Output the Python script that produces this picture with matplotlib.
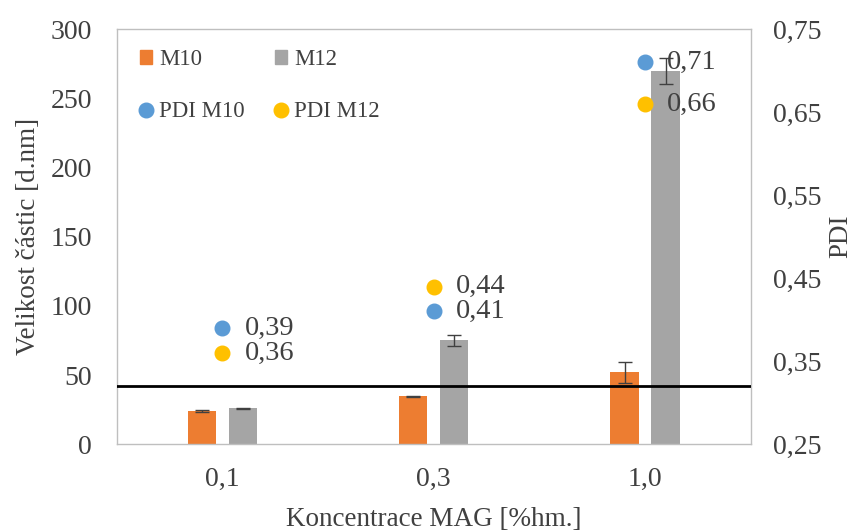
import matplotlib
matplotlib.use("Agg")
import matplotlib.pyplot as plt
from matplotlib.lines import Line2D
from matplotlib.patches import Patch
import numpy as np

plt.rcParams['font.family'] = ['Liberation Serif', 'DejaVu Serif']

categories = ["0,1", "0,3", "1,0"]
size_m10 = [24, 34.5, 52]
size_m12 = [26, 75, 270]
err_m10 = [0.5, 0.5, 7.8]
err_m12 = [0.5, 4.3, 9.5]
pdi_m10 = [0.39, 0.41, 0.71]
pdi_m12 = [0.36, 0.44, 0.66]
limit_line = 42

left_ticks = [0, 50, 100, 150, 200, 250, 300]
right_ticks = [0.25, 0.35, 0.45, 0.55, 0.65, 0.75]

c_orange = "#ED7D31"
c_gray = "#A5A5A5"
c_blue = "#5B9BD5"
c_yellow = "#FFC000"
c_text = "#404040"
c_frame = "#BFBFBF"

fs_tick = 20
fs_label = 19.5
fs_data = 20.5
fs_leg = 16.5

fig = plt.figure(figsize=(8.53, 5.32), dpi=100)
ax = fig.add_axes([0.137, 0.165, 0.743, 0.780])
x = np.arange(len(categories))
w = 0.133
off = 0.097

ax.bar(x - off, size_m10, w, color=c_orange, zorder=2)
ax.bar(x + off, size_m12, w, color=c_gray, zorder=2)
ax.errorbar(x - off, size_m10, yerr=err_m10, fmt='none', ecolor=c_text,
            elinewidth=1, capsize=5, capthick=1, zorder=3)
ax.errorbar(x + off, size_m12, yerr=err_m12, fmt='none', ecolor=c_text,
            elinewidth=1, capsize=5, capthick=1, zorder=3)
ax.axhline(limit_line, color="black", lw=2, zorder=4)

ax.set_xlim(-0.5, 2.5)
ax.set_ylim(0, 300)
ax.set_yticks(left_ticks)
ax.set_xticks(x)
ax.set_xticklabels(categories)
ax.tick_params(length=0, labelsize=fs_tick, labelcolor=c_text)
ax.tick_params(axis='y', pad=18)
ax.tick_params(axis='x', pad=16)
for s in ax.spines.values():
    s.set_color(c_frame)
    s.set_linewidth(1)
ax.set_ylabel("Velikost částic [d.nm]", fontsize=fs_label, color=c_text, labelpad=7)
ax.set_xlabel("Koncentrace MAG [%hm.]", fontsize=fs_label, color=c_text, labelpad=11)

ax2 = ax.twinx()
ax2.set_ylim(0.25, 0.75)
ax2.set_yticks(right_ticks)
ax2.set_yticklabels([f"{t:.2f}".replace(".", ",") for t in right_ticks])
ax2.tick_params(length=0, labelsize=fs_tick, labelcolor=c_text, pad=16)
for s in ax2.spines.values():
    s.set_visible(False)
ax2.set_ylabel("PDI", fontsize=fs_label, color=c_text, labelpad=5)

ax2.plot(x, pdi_m10, 'o', color=c_blue, ms=10.5, zorder=5)
ax2.plot(x, pdi_m12, 'o', color=c_yellow, ms=10.5, zorder=5)
for xi, v in zip(x, pdi_m10):
    ax2.annotate(f"{v:.2f}".replace(".", ","), (xi, v), xytext=(16, 0),
                 textcoords="offset points", va="center", ha="left",
                 fontsize=fs_data, color=c_text)
for xi, v in zip(x, pdi_m12):
    ax2.annotate(f"{v:.2f}".replace(".", ","), (xi, v), xytext=(16, 0),
                 textcoords="offset points", va="center", ha="left",
                 fontsize=fs_data, color=c_text)

handles = [
    Patch(color=c_orange, label="M10"),
    Line2D([], [], marker='o', ls='none', color=c_blue, ms=10.5, label="PDI M10"),
    Patch(color=c_gray, label="M12"),
    Line2D([], [], marker='o', ls='none', color=c_yellow, ms=10.5, label="PDI M12"),
]
leg = ax.legend(handles=handles, ncol=2, loc="upper left", frameon=False,
                fontsize=fs_leg, labelcolor=c_text, handlelength=0.55,
                handleheight=0.55, handletextpad=0.3, columnspacing=1.3,
                labelspacing=1.35, borderaxespad=0.6,
                bbox_to_anchor=(0.0, 1.007))

fig.savefig("out.png", dpi=100)
